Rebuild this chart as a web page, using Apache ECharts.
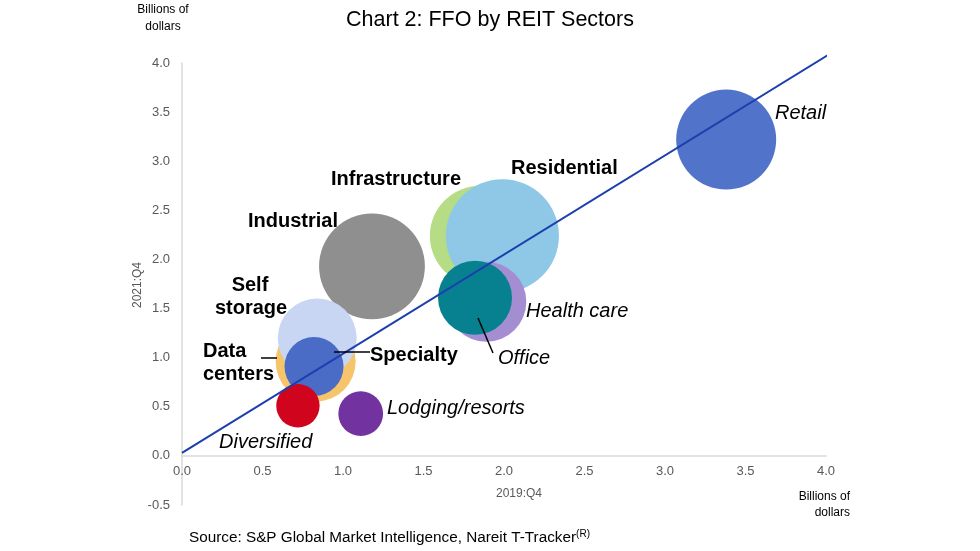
<!DOCTYPE html>
<html><head><meta charset="utf-8">
<script src="https://cdn.jsdelivr.net/npm/echarts@6/dist/echarts.min.js"></script>
<style>html,body{margin:0;padding:0;background:#fff}#c{width:980px;height:551px}</style>
</head><body><div id="c"></div>
<script>
// Data
const sectors = ["Retail","Industrial","Infrastructure","Residential","Health care","Office","Data centers","Self storage","Specialty","Lodging/resorts","Diversified"];
const ffo2019 = [3.38, 1.18, 1.85, 1.99, 1.89, 1.82, 0.83, 0.84, 0.82, 1.11, 0.72];
const ffo2021 = [3.22, 1.93, 2.24, 2.24, 1.57, 1.61, 0.96, 1.20, 0.91, 0.43, 0.51];
const bubble = [25, 28, 25, 32, 16, 13.7, 16, 15.6, 8.7, 5, 4.7];
const fitX = [0, 4.1];
const fitY = [0.03, 4.17];
const xTicks = [0, 0.5, 1.0, 1.5, 2.0, 2.5, 3.0, 3.5, 4.0];
const yTicks = [-0.5, 0, 0.5, 1.0, 1.5, 2.0, 2.5, 3.0, 3.5, 4.0];

const colors = {
  "Retail":"#5173c9","Industrial":"#8f8f8f","Infrastructure":"#b6dc86","Residential":"#8ec8e6",
  "Health care":"#a58dd1","Office":"#07818f","Data centers":"#f6c56b","Self storage":"#c8d6f4",
  "Specialty":"#4a6bc6","Lodging/resorts":"#7232a0","Diversified":"#d0041c"
};

const chart = echarts.init(document.getElementById('c'), null, {renderer:'canvas'});
const FONT = "'Liberation Sans', Arial, sans-serif";

const series = sectors.map((s,i)=>({
  type:'scatter', name:s, z:2,
  data:[[ffo2019[i], ffo2021[i], bubble[i]]],
  symbolSize: d => 20*Math.sqrt(d[2]),
  itemStyle:{color:colors[s], opacity:1},
  emphasis:{disabled:true}, silent:true
}));
series.push({
  type:'line', z:5, clip:false, symbol:'none', silent:true,
  data: fitX.map((x,i)=>[x, fitY[i]]),
  lineStyle:{color:'#1d3fae', width:2}
});

// text centred vertically at y
function txt(x,y,t,font,align){
  return {type:'text', x:x, y:y, z:10, style:{text:t, fill:'#000', font:font, align:align||'left', verticalAlign:'middle'}};
}
const B = 'bold 20px '+FONT, I = 'italic 20px '+FONT;

chart.setOption({
  animation:false,
  grid:{left:182, right:154, top:63, bottom:46},
  xAxis:{type:'value', min:xTicks[0], max:xTicks[xTicks.length-1], interval:0.5,
    position:'bottom', offset:-49,
    axisLine:{onZero:false, lineStyle:{color:'#d9d9d9', width:1.5}},
    axisTick:{show:false}, splitLine:{show:false},
    axisLabel:{color:'#595959', fontSize:13, fontFamily:FONT, margin:9, formatter:v=>v.toFixed(1)}},
  yAxis:{type:'value', min:yTicks[0], max:yTicks[yTicks.length-1], interval:0.5,
    axisLine:{show:true, lineStyle:{color:'#d9d9d9', width:1.5}},
    axisTick:{show:false}, splitLine:{show:false},
    axisLabel:{color:'#595959', fontSize:13, fontFamily:FONT, margin:12, formatter:v=>v.toFixed(1)}},
  series: series,
  graphic:[
    txt(490,20,'Chart 2: FFO by REIT Sectors','21.5px '+FONT,'center'),
    {type:'text', x:163, y:18, style:{text:'Billions of\ndollars', font:'12px '+FONT, fill:'#000', align:'center', verticalAlign:'middle', lineHeight:17}},
    {type:'text', x:850, y:505, style:{text:'Billions of\ndollars', font:'12px '+FONT, fill:'#000', align:'right', verticalAlign:'middle', lineHeight:16}},
    {type:'text', x:519, y:494, style:{text:'2019:Q4', font:'12px '+FONT, fill:'#595959', align:'center', verticalAlign:'middle'}},
    {type:'text', x:138, y:285, rotation:Math.PI/2, style:{text:'2021:Q4', font:'12px '+FONT, fill:'#595959', align:'center', verticalAlign:'middle'}},
    {type:'text', x:189, y:538, style:{rich:{a:{font:'15.3px '+FONT, fill:'#000'}, s:{font:'10px '+FONT, fill:'#000', verticalAlign:'top', padding:[0,0,7,0]}}, text:'{a|Source: S&P Global Market Intelligence, Nareit T-Tracker}{s|(R)}', verticalAlign:'middle'}},
    txt(775,113,'Retail',I),
    txt(511,168,'Residential',B),
    txt(331,179,'Infrastructure',B),
    txt(248,221,'Industrial',B),
    txt(250,285,'Self',B,'center'),
    txt(251,308,'storage',B,'center'),
    txt(203,351,'Data',B),
    txt(203,374,'centers',B),
    txt(370,355,'Specialty',B),
    txt(526,311,'Health care',I),
    txt(498,358,'Office',I),
    txt(387,408,'Lodging/resorts',I),
    txt(219,442,'Diversified',I),
    {type:'line', z:10, shape:{x1:261,y1:358,x2:277,y2:358}, style:{stroke:'#000', lineWidth:1.5}},
    {type:'line', z:10, shape:{x1:334,y1:352,x2:370,y2:352}, style:{stroke:'#000', lineWidth:1.5}},
    {type:'line', z:10, shape:{x1:478,y1:318,x2:493,y2:353}, style:{stroke:'#000', lineWidth:1.5}}
  ]
});
</script></body></html>
